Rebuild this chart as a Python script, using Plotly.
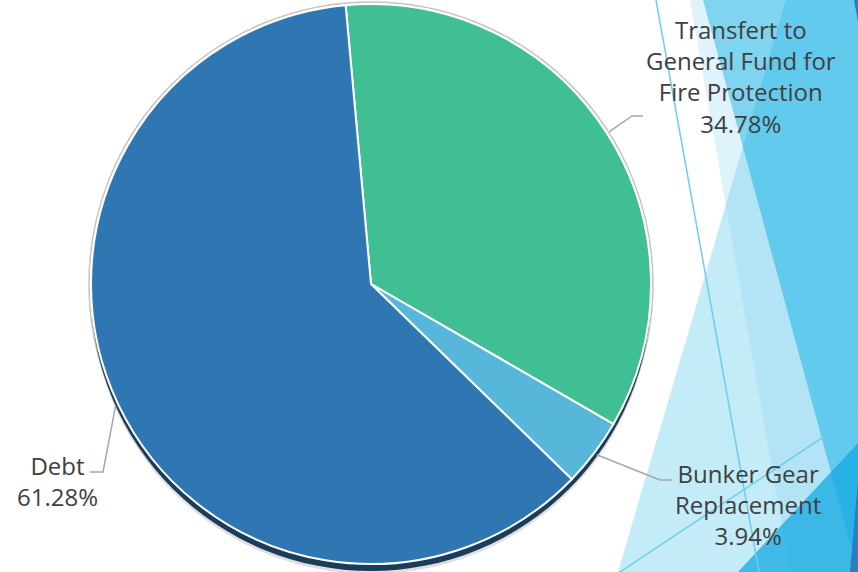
import numpy as np
import plotly.graph_objects as go

# ---- data ----
categories = ["Transfert to General Fund for Fire Protection", "Bunker Gear Replacement", "Debt"]
label_text = ["Transfert to<br>General Fund for<br>Fire Protection", "Bunker Gear<br>Replacement", "Debt"]
values = [34.78, 3.94, 61.28]
colors = ["#3FBF93", "#56B7DB", "#2E77B3"]

# ---- layout constants (pixels) ----
W, H = 858, 572
CX, CY, R = 371, 284, 280
ROT = -5.2
label_pos = [(741, 76), (748, 504), (57, 481)]
leader_elbow = [(632, 116), (660, 480), (103, 472)]
leader_end = [(643, 116), (672, 480), (90, 472)]
FONT = "Open Sans"


def px(x):
    return x / W


def py(y):
    return 1 - y / H


fig = go.Figure(go.Pie(
    labels=categories, values=values, sort=False, direction="clockwise",
    rotation=ROT,
    marker=dict(colors=colors, line=dict(color="white", width=2)),
    textinfo="none", hoverinfo="label+percent",
    domain=dict(x=[px(CX - R), px(CX + R)], y=[py(CY + R), py(CY - R)]),
    showlegend=False,
))


def poly(pts, fill, opacity=1.0):
    path = "M " + " L ".join(f"{px(x):.5f},{py(y):.5f}" for x, y in pts) + " Z"
    return dict(type="path", xref="paper", yref="paper", path=path,
                fillcolor=fill, opacity=opacity, line=dict(width=0), layer="below")


def seg(p0, p1, color, width):
    return dict(type="line", xref="paper", yref="paper",
                x0=px(p0[0]), y0=py(p0[1]), x1=px(p1[0]), y1=py(p1[1]),
                line=dict(color=color, width=width), layer="below")


def circ(cx, cy, r, fill=None, line=None, lw=0):
    d = dict(type="circle", xref="paper", yref="paper",
             x0=px(cx - r), x1=px(cx + r), y0=py(cy + r), y1=py(cy - r),
             layer="below")
    d["fillcolor"] = fill if fill else "rgba(0,0,0,0)"
    d["line"] = dict(color=line if line else "rgba(0,0,0,0)", width=lw)
    return d


shapes = []
# decorative background facets
shapes.append(poly([(786, 0), (858, 0), (858, 572), (618, 572)], "rgb(125,210,240)", 0.45))
shapes.append(poly([(703, 0), (858, 0), (858, 572)], "rgb(0,170,225)", 0.5))
shapes.append(poly([(690, 0), (703, 0), (858, 572), (790, 572)], "rgb(122,207,240)", 0.25))
shapes.append(poly([(738, 572), (858, 443), (858, 572)], "rgb(20,170,225)", 0.75))
shapes.append(poly([(850, 572), (858, 480), (858, 572)], "#2B7CC1", 1.0))
shapes.append(poly([(854, 0), (858, 0), (858, 22)], "#2B7CC1", 1.0))
shapes.append(seg((656, 0), (759, 572), "rgb(110,205,238)", 1.5))
shapes.append(seg((620, 572), (858, 414), "rgb(110,205,238)", 1.5))

# pie rim and 3D edge
shapes.append(circ(CX, CY, R + 2, fill=None, line="#C4C4C4", lw=1.5))
shapes.append(circ(CX, CY + 10, R, fill="rgba(150,150,150,0.3)"))
shapes.append(circ(CX, CY + 7, R, fill="#1C3D5A"))

# leader lines from slice mid-angles
cum = np.cumsum([0] + values[:-1])
total = float(np.sum(values))
annotations = []
for i, v in enumerate(values):
    mid = np.deg2rad(ROT + (cum[i] + v / 2) / total * 360)
    sx = CX + (R + 3) * np.sin(mid)
    sy = CY - (R + 3) * np.cos(mid)
    shapes.append(dict(type="path", xref="paper", yref="paper",
                       path=f"M {px(sx):.5f},{py(sy):.5f} L {px(leader_elbow[i][0]):.5f},{py(leader_elbow[i][1]):.5f} L {px(leader_end[i][0]):.5f},{py(leader_end[i][1]):.5f}",
                       line=dict(color="#A6A6A6", width=1.5), layer="above"))
    annotations.append(dict(
        x=px(label_pos[i][0]), y=py(label_pos[i][1]), xref="paper", yref="paper",
        text=f"{label_text[i]}<br>{v / total * 100:.2f}%", showarrow=False,
        xanchor="center", yanchor="middle", align="center",
        font=dict(family=FONT, size=24, color="#404040"),
    ))

fig.update_layout(
    width=W, height=H, margin=dict(l=0, r=0, t=0, b=0),
    paper_bgcolor="white", plot_bgcolor="white",
    shapes=shapes, annotations=annotations, showlegend=False,
)

fig.write_html("out.html")
